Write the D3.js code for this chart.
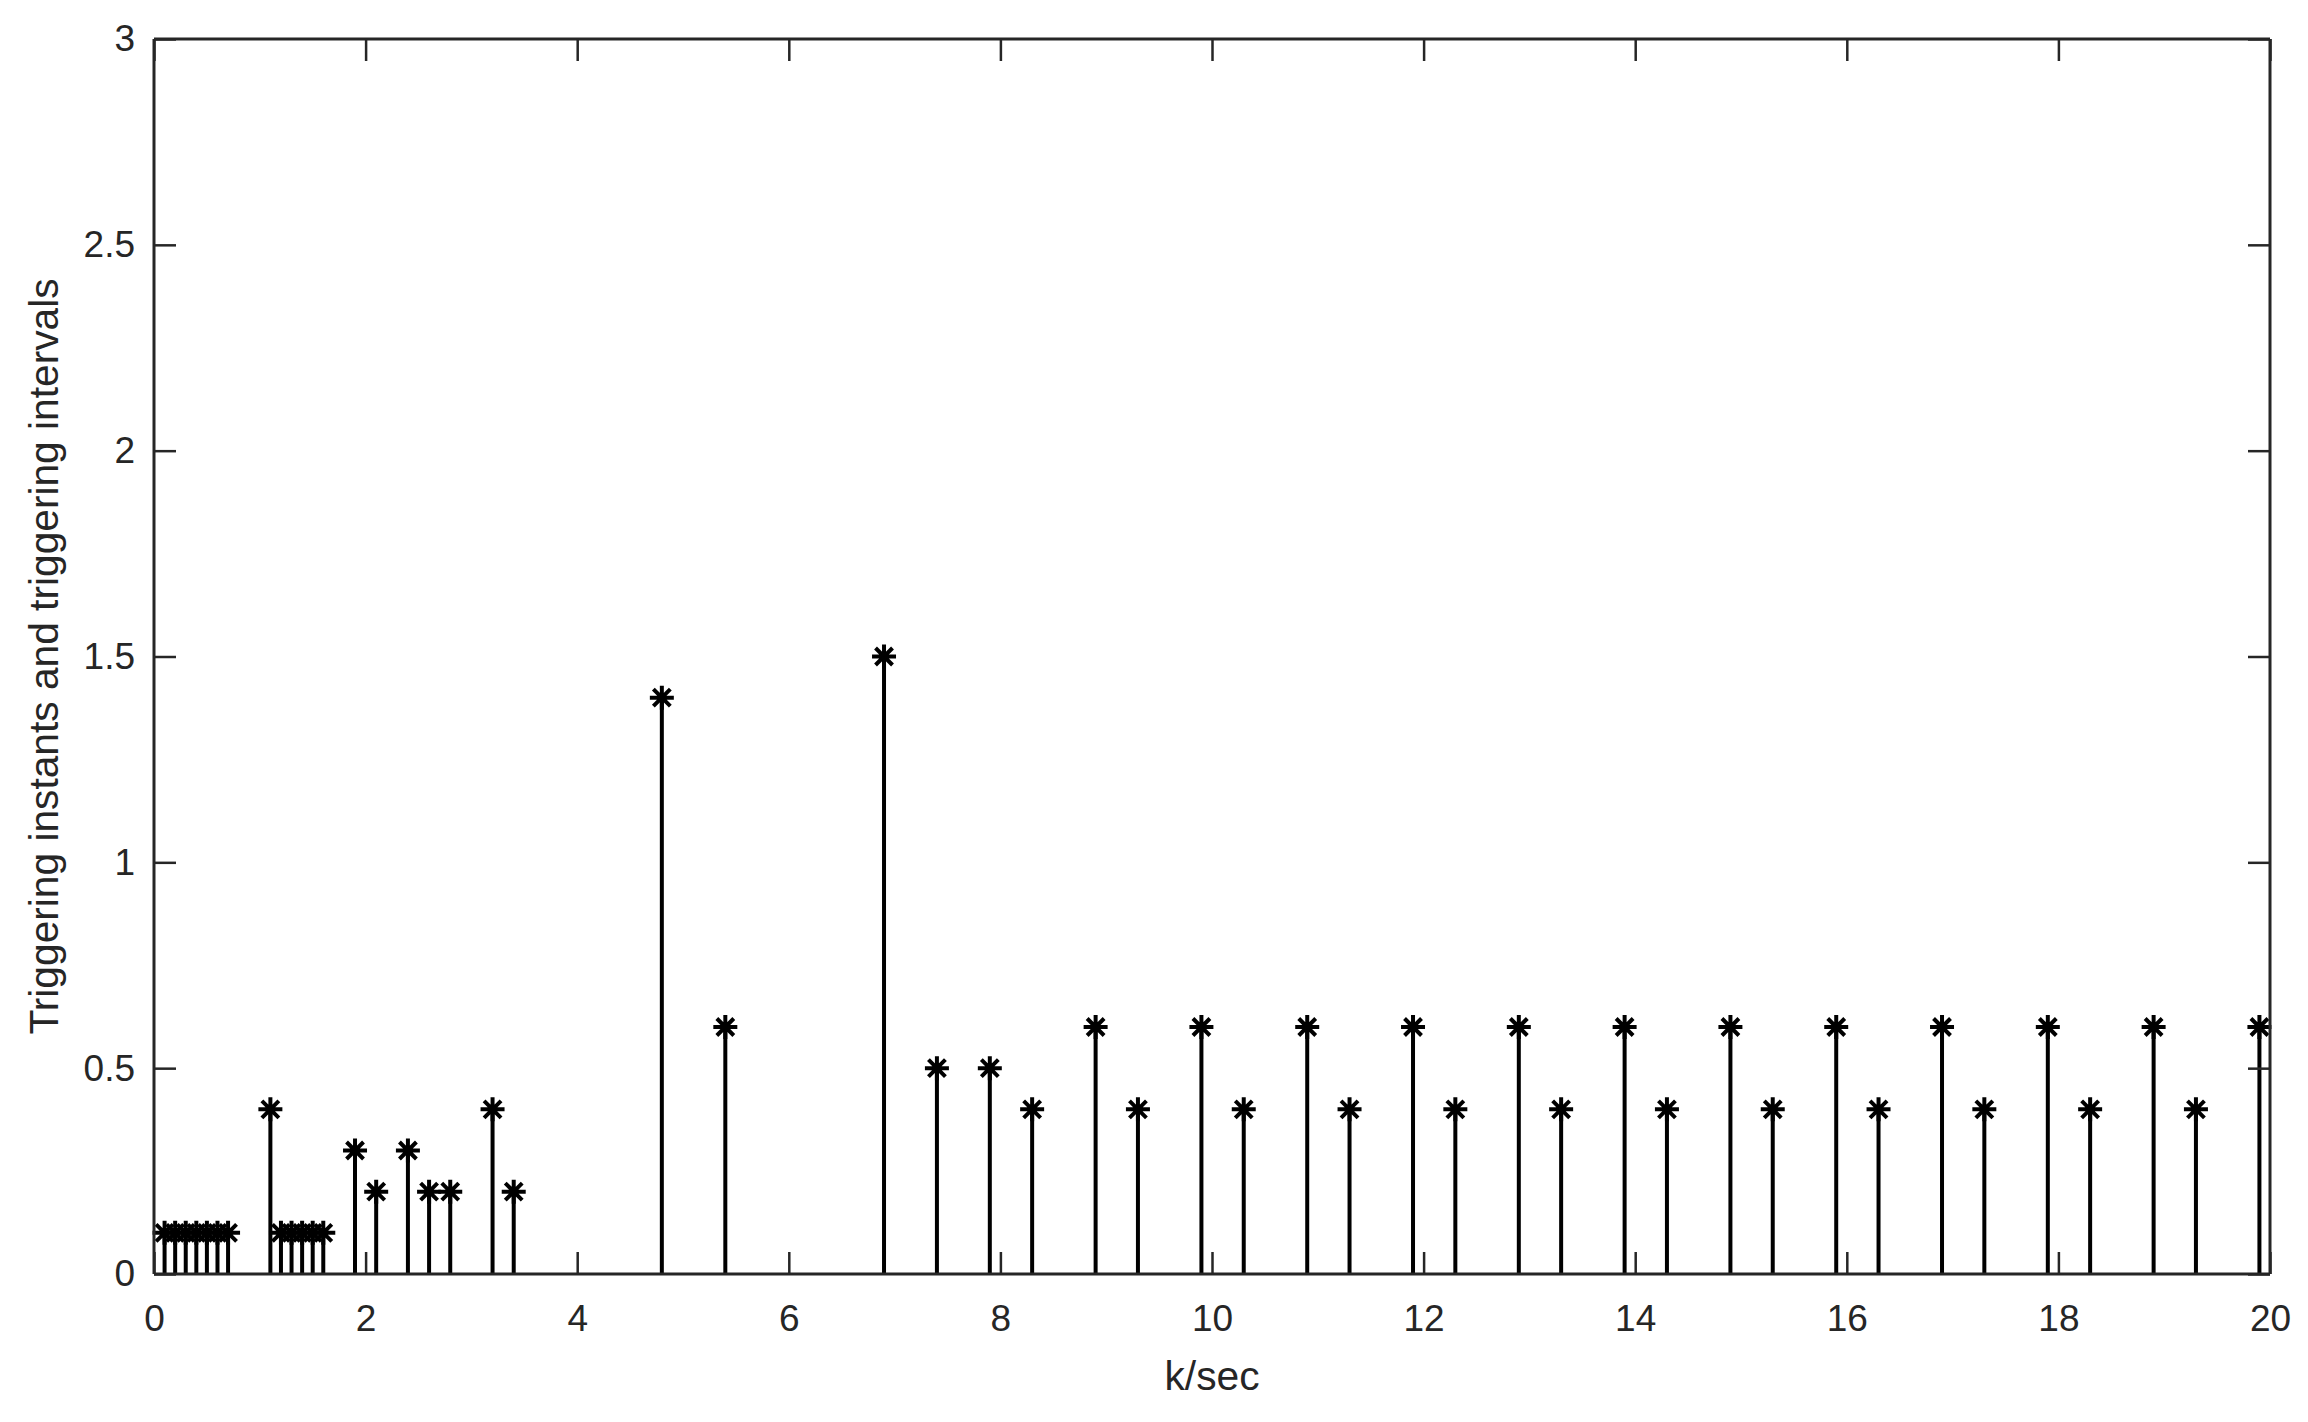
<!DOCTYPE html>
<html><head><meta charset="utf-8">
<script src="https://cdn.jsdelivr.net/npm/d3@7"></script>
<style>html,body{margin:0;padding:0;background:#fff;}svg{display:block;}</style>
</head><body>
<script>
const instants = [0.1,0.2,0.3,0.4,0.5,0.6,0.7,1.1,1.2,1.3,1.4,1.5,1.6,1.9,2.1,2.4,2.6,2.8,3.2,3.4,4.8,5.4,6.9,7.4,7.9,8.3,8.9,9.3,9.9,10.3,10.9,11.3,11.9,12.3,12.9,13.3,13.9,14.3,14.9,15.3,15.9,16.3,16.9,17.3,17.9,18.3,18.9,19.3,19.9];
const intervals = [0.1,0.1,0.1,0.1,0.1,0.1,0.1,0.4,0.1,0.1,0.1,0.1,0.1,0.3,0.2,0.3,0.2,0.2,0.4,0.2,1.4,0.6,1.5,0.5,0.5,0.4,0.6,0.4,0.6,0.4,0.6,0.4,0.6,0.4,0.6,0.4,0.6,0.4,0.6,0.4,0.6,0.4,0.6,0.4,0.6,0.4,0.6,0.4,0.6];
const xTicks = [0,2,4,6,8,10,12,14,16,18,20];
const yTicks = [0,0.5,1,1.5,2,2.5,3];
const xLabel = "k/sec";
const yLabel = "Triggering instants and triggering intervals";

const W = 2308, H = 1422;
const m = {left:154, right:W-2270, top:39, bottom:H-1274};
const axisColor = "#262626";
const font = "'Liberation Sans', Arial, Helvetica, sans-serif";
const fs = 37;
const lfs = 40.7;

const svg = d3.select("body").append("svg").attr("width", W).attr("height", H);
const x = d3.scaleLinear().domain([0,20]).range([m.left, W-m.right]);
const y = d3.scaleLinear().domain([0,3]).range([H-m.bottom, m.top]);
const tickLen = 22;

// stems
const data = instants.map((t,i)=>({t, v:intervals[i]}));
svg.append("g").selectAll("line").data(data).join("line")
  .attr("x1", d=>x(d.t)).attr("x2", d=>x(d.t))
  .attr("y1", y(0)).attr("y2", d=>y(d.v))
  .attr("stroke", "#000").attr("stroke-width", 4);

// asterisk markers
const r = 12, rd = r*Math.SQRT1_2;
const star = `M${-r},0L${r},0M0,${-r}L0,${r}M${-rd},${-rd}L${rd},${rd}M${-rd},${rd}L${rd},${-rd}`;
svg.append("g").selectAll("path").data(data).join("path")
  .attr("transform", d=>`translate(${x(d.t)},${y(d.v)})`)
  .attr("d", star).attr("fill","none").attr("stroke","#000").attr("stroke-width",4);

// axes
const gx = svg.append("g").attr("transform", `translate(0,${y(0)})`)
  .call(d3.axisBottom(x).tickValues(xTicks).tickSize(-tickLen).tickPadding(tickLen+10).tickFormat(d3.format("d")));
const gxt = svg.append("g").attr("transform", `translate(0,${y(3)})`)
  .call(d3.axisTop(x).tickValues(xTicks).tickSize(-tickLen).tickFormat(""));
const gy = svg.append("g").attr("transform", `translate(${x(0)},0)`)
  .call(d3.axisLeft(y).tickValues(yTicks).tickSize(-tickLen).tickPadding(19).tickFormat(d=>String(d)));
const gyr = svg.append("g").attr("transform", `translate(${x(20)},0)`)
  .call(d3.axisRight(y).tickValues(yTicks).tickSize(-tickLen).tickFormat(""));

[gx,gxt,gy,gyr].forEach(g=>{
  g.select(".domain").attr("stroke", axisColor).attr("stroke-width", 3);
  g.selectAll(".tick line").attr("stroke", axisColor).attr("stroke-width", 2.5);
  g.selectAll(".tick text").attr("fill", axisColor).attr("font-family", font).attr("font-size", fs);
});
gx.selectAll(".domain").attr("d", `M${x(0)},0H${x(20)}`);
gxt.selectAll(".domain").attr("d", `M${x(0)},0H${x(20)}`);
gy.selectAll(".domain").attr("d", `M0,${y(0)}V${y(3)}`);
gyr.selectAll(".domain").attr("d", `M0,${y(0)}V${y(3)}`);
gx.selectAll(".tick text").attr("dy", "0.71em").attr("y", 31);

svg.append("text").attr("x", (x(0)+x(20))/2).attr("y", 1390)
  .attr("text-anchor","middle").attr("font-family",font).attr("font-size",lfs).attr("fill",axisColor)
  .text(xLabel);
svg.append("text").attr("transform", `translate(58,${(y(0)+y(3))/2}) rotate(-90)`)
  .attr("text-anchor","middle").attr("font-family",font).attr("font-size",lfs).attr("fill",axisColor)
  .text(yLabel);
</script>
</body></html>
